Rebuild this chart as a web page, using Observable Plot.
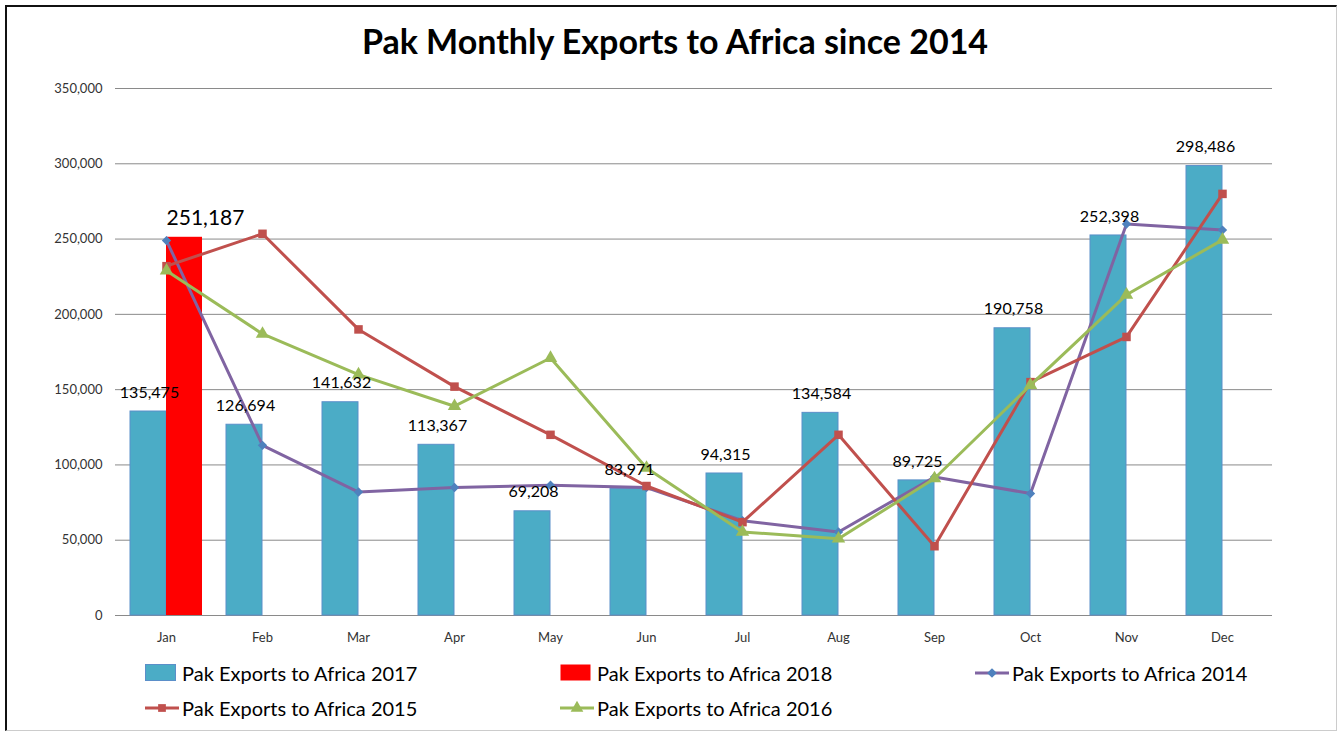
<!DOCTYPE html>
<html>
<head>
<meta charset="utf-8">
<script src="https://cdn.jsdelivr.net/npm/d3@7"></script>
<script src="https://cdn.jsdelivr.net/npm/@observablehq/plot@0.6"></script>
<style>
  html, body { margin: 0; padding: 0; background: #fff; }
  body { width: 1341px; height: 735px; position: relative; overflow: hidden; font-family: Lato, "Open Sans", sans-serif; }
  #frame { position: absolute; left: 5px; top: 5px; width: 1332px; height: 726px; border-left: 2px solid #111; border-top: 2px solid #111; border-right: 1px solid #ccc; border-bottom: 1px solid #ccc; box-sizing: border-box; }
  #title { position: absolute; left: 0; width: 1350px; top: 20px; text-align: center; font-size: 34px; font-weight: bold; color: #000; }
  #chart { position: absolute; left: 0; top: 0; }
  .leg { position: absolute; display: flex; align-items: center; font-size: 20px; color: #000; white-space: nowrap; }
  .leg svg { margin-right: 3px; }
</style>
</head>
<body>
<div id="frame"></div>
<div id="chart"></div>
<div id="title">Pak Monthly Exports to Africa since 2014</div>
<div id="legend"></div>
<script>
// ---- data ----
const months = ["Jan","Feb","Mar","Apr","May","Jun","Jul","Aug","Sep","Oct","Nov","Dec"];
const exports2017 = [135475, 126694, 141632, 113367, 69208, 83971, 94315, 134584, 89725, 190758, 252398, 298486];
const months2018 = ["Jan"];
const exports2018 = [251187];
const exports2014 = [249000, 113000, 82000, 85000, 86500, 85000, 63000, 55500, 92000, 81000, 260000, 256000];
const exports2015 = [232000, 253500, 190000, 152000, 120000, 86000, 62000, 120000, 46000, 155000, 185000, 280000];
const exports2016 = [229000, 187000, 160000, 139000, 171000, 98000, 55500, 51000, 91000, 153000, 213000, 249500];
const yTicks = [0, 50000, 100000, 150000, 200000, 250000, 300000, 350000];
const seriesNames = ["Pak Exports to Africa 2017", "Pak Exports to Africa 2018", "Pak Exports to Africa 2014", "Pak Exports to Africa 2015", "Pak Exports to Africa 2016"];

// ---- tables ----
const t2017 = months.map((m, i) => ({month: m, value: exports2017[i]}));
const t2018 = months2018.map((m, i) => ({month: m, value: exports2018[i]}));
const t2014 = months.map((m, i) => ({month: m, value: exports2014[i]}));
const t2015 = months.map((m, i) => ({month: m, value: exports2015[i]}));
const t2016 = months.map((m, i) => ({month: m, value: exports2016[i]}));

const C17 = "#4BACC6", C18 = "#FF0000", C14 = "#8064A2", C14m = "#4F81BD", C15 = "#C0504D", C16 = "#9BBB59";
const fmt = d3.format(",");

const plot = Plot.plot({
  width: 1341,
  height: 650,
  marginTop: 88,
  marginBottom: 35,
  marginLeft: 115,
  marginRight: 69,
  style: {fontFamily: "Lato, 'Open Sans', sans-serif", background: "transparent", overflow: "visible"},
  x: {type: "band", domain: months, padding: 0, label: null},
  y: {domain: [0, 350000], label: null},
  marks: [
    Plot.gridY(yTicks, {stroke: "#8a8a8a", strokeOpacity: 1, strokeWidth: 1}),
    Plot.axisY(yTicks, {tickSize: 0, tickPadding: 13, tickFormat: fmt, fontSize: 13, fill: "#333", label: null}),
    Plot.axisX({tickSize: 0, tickPadding: 17, fontSize: 13, fill: "#333", label: null}),
    Plot.barY(t2017, {x: "month", y: "value", fill: C17, stroke: "#5b8fc9", strokeWidth: 1, insetLeft: 12, insetRight: 48}),
    Plot.barY(t2018, {x: "month", y: "value", fill: C18, insetLeft: 48, insetRight: 12}),
    Plot.line(t2014, {x: "month", y: "value", stroke: C14, strokeWidth: 3}),
    Plot.dot(t2014, {x: "month", y: "value", symbol: "diamond2", r: 4.2, fill: C14m, stroke: "none"}),
    Plot.line(t2015, {x: "month", y: "value", stroke: C15, strokeWidth: 3}),
    Plot.dot(t2015, {x: "month", y: "value", symbol: "square", r: 4.8, fill: C15, stroke: "none"}),
    Plot.line(t2016, {x: "month", y: "value", stroke: C16, strokeWidth: 3}),
    Plot.dot(t2016, {x: "month", y: "value", symbol: "triangle", r: 5, fill: C16, stroke: "none"}),
    Plot.text(t2017, {x: "month", y: "value", text: d => fmt(d.value), dx: -17, dy: -19, fontSize: 16, fill: "#000"}),
    Plot.text(t2018, {x: "month", y: "value", text: d => fmt(d.value), dx: 39, dy: -19, fontSize: 21, fill: "#000"})
  ]
});
document.getElementById("chart").appendChild(plot);

// ---- legend ----
const legendItems = [
  {name: seriesNames[0], kind: "rect", color: C17, stroke: "#5b8fc9", x: 145, y: 673},
  {name: seriesNames[1], kind: "rect", color: C18, stroke: "none", x: 560, y: 673},
  {name: seriesNames[2], kind: "line", color: C14, marker: "diamond", mcolor: C14m, x: 975, y: 673},
  {name: seriesNames[3], kind: "line", color: C15, marker: "square", mcolor: C15, x: 145, y: 708},
  {name: seriesNames[4], kind: "line", color: C16, marker: "triangle", mcolor: C16, x: 560, y: 708}
];
const legend = d3.select("#legend");
legendItems.forEach(it => {
  const div = legend.append("div").attr("class", "leg").style("left", it.x + "px").style("top", (it.y - 13) + "px").style("height", "26px");
  const svg = div.append("svg").attr("width", 34).attr("height", 20);
  if (it.kind === "rect") {
    svg.append("rect").attr("x", 0.5).attr("y", 1.5).attr("width", 30).attr("height", 16).attr("fill", it.color).attr("stroke", it.stroke);
  } else {
    svg.append("line").attr("x1", 0).attr("x2", 34).attr("y1", 10).attr("y2", 10).attr("stroke", it.color).attr("stroke-width", 3);
    const sym = it.marker === "diamond" ? d3.symbolDiamond2 : it.marker === "square" ? d3.symbolSquare : d3.symbolTriangle;
    svg.append("path").attr("d", d3.symbol(sym, it.marker === "triangle" ? 70 : 60)()).attr("transform", "translate(17,10)").attr("fill", it.mcolor);
  }
  div.append("span").text(it.name);
});
</script>
</body>
</html>
